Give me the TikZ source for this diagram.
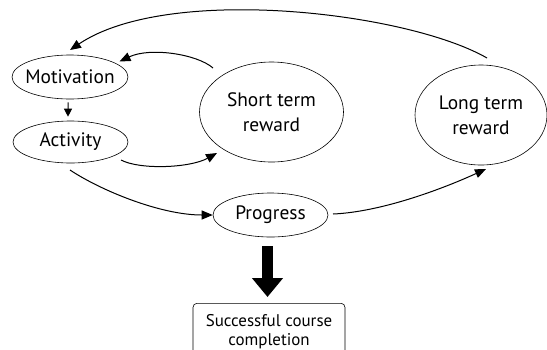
\documentclass[tikz,border=0pt]{standalone}
\usepackage{fontspec}
\setmainfont{PT Sans}
\usetikzlibrary{shapes.geometric,arrows.meta}
\begin{document}
\begin{tikzpicture}[x=1bp,y=-1bp,
  ell/.style={draw, ellipse, line width=0.6bp, inner sep=0pt},
  lbl/.style={font=\fontsize{19.5}{25}\selectfont, align=center, inner sep=0pt},
  conn/.style={line width=1bp, -{Triangle[width=9bp,length=11bp]}},
  small/.style={line width=1bp, -{Triangle[width=8bp,length=8bp]}},
  big/.style={line width=11bp, -{Triangle[width=30bp,length=19bp]}},
  endbox/.style={draw, rounded corners=4bp, line width=0.6bp, minimum width=152bp,
    minimum height=56bp, align=center, inner sep=0pt, font=\fontsize{17}{19}\selectfont}]
\useasboundingbox (0,0) rectangle (547,349);
\node[ell, minimum width=116bp, minimum height=44bp, label={[lbl]center:Motivation}] (mot) at (70,77) {};
\node[ell, minimum width=115bp, minimum height=42bp, label={[lbl]center:Activity}] (act) at (70.5,142) {};
\node[ell, minimum width=144bp, minimum height=100bp, label={[lbl]center:Short term\\reward}] (short) at (271.5,112) {};
\node[ell, minimum width=132bp, minimum height=100bp, label={[lbl]center:Long term\\reward}] (long) at (481,115) {};
\node[ell, minimum width=115bp, minimum height=44bp, label={[lbl]center:Progress}] (prog) at (270.5,215) {};
\node[endbox, anchor=north] (box) at (269,303) {Successful course\\completion};
% connectors
\draw[conn] ([shift={(6,-57)}]long.center) .. controls (407,12) and (168,-16) .. ([shift={(0,-27)}]mot.center);
\draw[conn] ([shift={(-58.5,-44)}]short.center) .. controls (197,54) and (150,47) .. ([shift={(49.5,-15.5)}]mot.center);
\draw[small, shorten <=3bp, shorten >=4bp] ([xshift=-2bp]mot.south) -- ([xshift=-2.5bp]act.north);
\draw[conn] ([shift={(50.5,18)}]act.center) .. controls (140,170) and (190,168) .. ([shift={(-54.5,41)}]short.center);
\draw[conn] ([shift={(-0.5,28)}]act.center) .. controls (100,190) and (160,215) .. (prog.west);
\draw[conn] ([shift={(62.5,-1)}]prog.center) .. controls (380,212) and (440,190) .. ([shift={(5,54)}]long.center);
\draw[big, shorten <=9bp, shorten >=6bp] ([xshift=-3bp]prog.south) -- ([xshift=-3bp]prog.south |- box.north);
\end{tikzpicture}
\end{document}
